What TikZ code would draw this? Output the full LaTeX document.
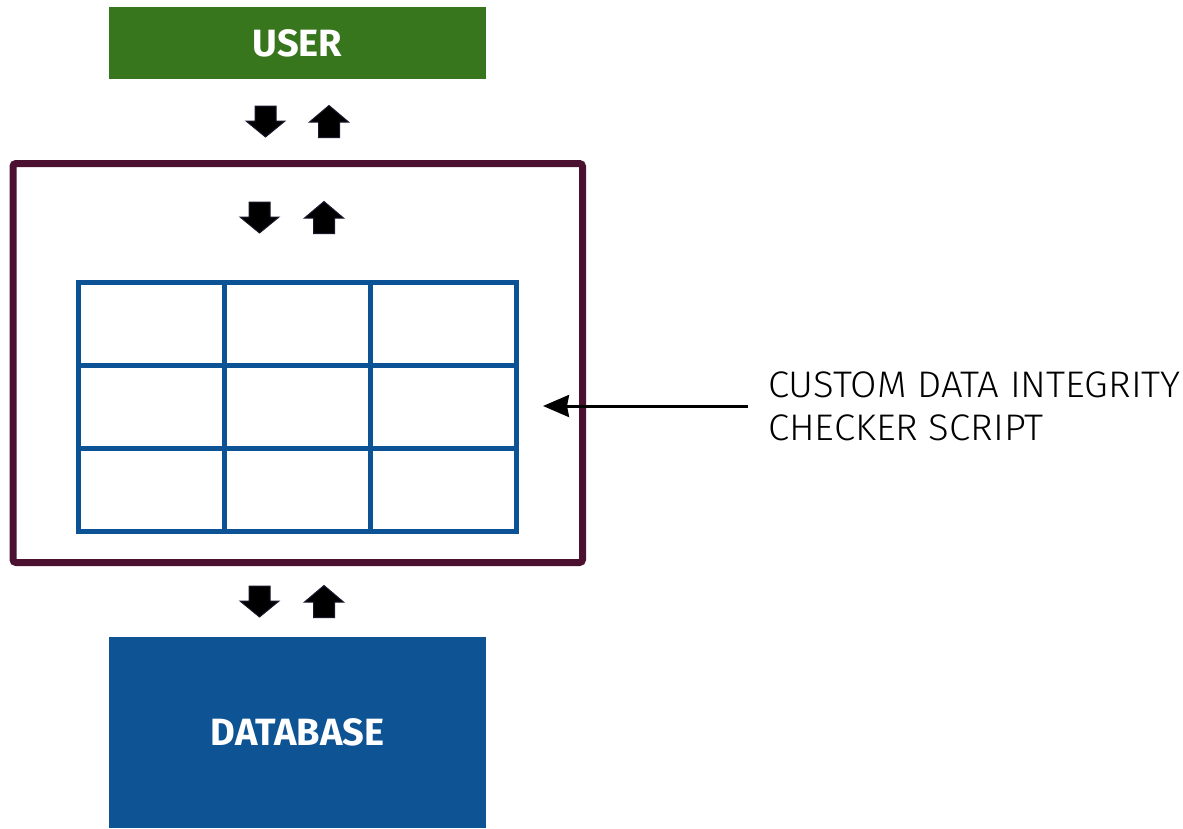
\documentclass[tikz,border=0pt]{standalone}
\usepackage{fontspec}
\setmainfont{Fira Sans}
\newfontfamily\notefont{Fira Sans Light}[FakeStretch=1.035]
\usetikzlibrary{arrows.meta}

\definecolor{usergreen}{HTML}{38761D}
\definecolor{framepurple}{HTML}{4C1130}
\definecolor{gridblue}{HTML}{0B5394}
\definecolor{dbblue}{HTML}{0E5394}
\definecolor{arrowedge}{HTML}{1A1A2E}

\tikzset{
  x=1pt, y=-1pt,
  labelbox/.style={rectangle, inner sep=0pt, text=white,
    font=\fontsize{38}{42}\selectfont\bfseries},
  frame/.style={draw=framepurple, line width=7pt, rounded corners=3pt},
  gridline/.style={draw=gridblue, line width=5pt, line cap=rect},
  pointer/.style={draw=black, line width=3pt,
    -{Stealth[length=26pt, width=22pt, inset=2pt]}},
  note/.style={align=left, anchor=west, inner sep=0pt,
    font=\notefont\fontsize{37}{43}\selectfont},
  fat/.style={fill=black, draw=arrowedge, line width=1pt, line join=miter},
  % block arrow pointing down, centred on the pic origin
  downblock/.pic={
    \path[fat] (-10.5,-15.5) -- (10.5,-15.5) -- (10.5,-0.5) -- (19.5,-0.5)
      -- (0,15.5) -- (-19.5,-0.5) -- (-10.5,-0.5) -- cycle;
  },
  % block arrow pointing up, centred on the pic origin
  upblock/.pic={
    \path[fat] (-10.5,16) -- (10.5,16) -- (10.5,0.5) -- (19.5,0.5)
      -- (0,-16) -- (-19.5,0.5) -- (-10.5,0.5) -- cycle;
  },
}

\begin{document}
\begin{tikzpicture}
\useasboundingbox (0,0) rectangle (1183,828);

% user and database
\node[labelbox, fill=usergreen, minimum width=377pt, minimum height=72pt]
  (user) at (297.5,43) {USER};
\node[labelbox, fill=dbblue, minimum width=377pt, minimum height=191pt]
  (db) at (297.5,732.5) {DATABASE};

% application frame
\draw[frame] (13,163.5) rectangle (582.5,562.5);

% data table
\draw[gridline] (78.5,282) rectangle (516,531);
\draw[gridline] (78.5,365.5) -- (516,365.5);
\draw[gridline] (78.5,448.5) -- (516,448.5);
\draw[gridline] (224.5,282) -- (224.5,531);
\draw[gridline] (370.5,282) -- (370.5,531);

% request / response arrows
\pic (reqTop)  at (265.5,121.5) {downblock};
\pic (resTop)  at (329,121.5)   {upblock};
\pic (reqMid)  at (259.5,217.5) {downblock};
\pic (resMid)  at (324,217.5)   {upblock};
\pic (reqLow)  at (259.5,601.5) {downblock};
\pic (resLow)  at (324,601.5)   {upblock};

% checker annotation
\node[note] (checker) at (768,406) {CUSTOM DATA INTEGRITY\\CHECKER SCRIPT};
\coordinate (checkTarget) at (543,406);
\draw[pointer] ([xshift=-20pt]checker.west) -- (checkTarget);
\end{tikzpicture}
\end{document}
